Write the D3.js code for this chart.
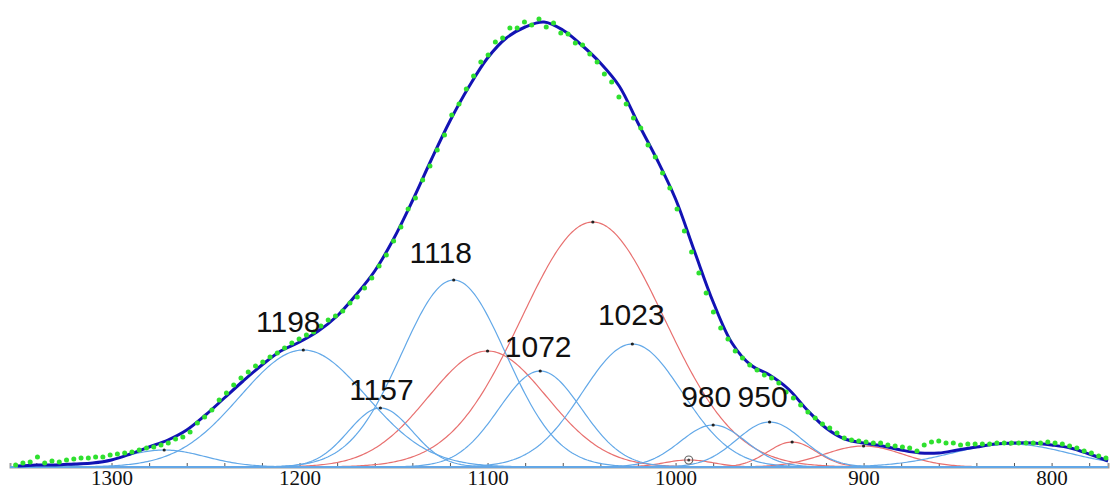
<!DOCTYPE html>
<html>
<head>
<meta charset="utf-8">
<script src="https://cdn.jsdelivr.net/npm/d3@7"></script>
<style>
  html, body { margin: 0; padding: 0; background: #fff; }
  svg { display: block; }
</style>
</head>
<body>
<div id="chart"></div>
<script>
// measured spectrum (green dots), start wavenumber and spacing
const dataStart = 1351;
const dataStep = 3.866;
const dataValues = [
  2, 4, 5, 10, 4, 6, 5, 7, 8, 9,
  9, 10, 10, 12, 13, 14, 15, 17, 19, 20,
  22, 24, 28, 30, 35, 44, 50, 57, 67, 74,
  82, 89, 95, 101, 105, 110, 114, 119, 124, 128,
  132, 135, 141, 147, 151, 156, 164, 170, 179, 189,
  201, 212, 226, 240, 258, 269, 287, 301, 317, 332,
  352, 363, 378, 391, 405, 412, 425, 429, 439, 439,
  445, 442, 448, 440, 444, 434, 433, 424, 422, 413,
  405, 393, 385, 370, 363, 349, 339, 322, 310, 294,
  279, 258, 236, 215, 194, 174, 155, 139, 128, 116,
  109, 102, 97, 92, 89, 84, 75, 69, 62, 55,
  49, 43, 39, 34, 29, 27, 26, 25, 24, 24,
  22, 21, 20, 19, 16, 22, 25, 26, 24, 24,
  22, 23, 23, 23, 23, 24, 24, 24, 24, 24,
  24, 24, 25, 24, 23, 21, 19, 16, 14, 11,
  9
];

// fitted envelope, every 10 cm-1 from 1350 down to 770
const fitStart = 1350;
const fitStep = 10;
const fitValues = [
  1, 2, 2, 3, 4, 7, 13, 20, 27, 37,
  52, 69, 86, 102, 116, 125, 136, 151, 172, 196,
  228, 266, 307, 346, 380, 409, 429, 440, 445, 437,
  422, 404, 381, 344, 308, 268, 216, 165, 124, 102,
  92, 78, 57, 39, 28, 24, 21, 17, 14, 14,
  17, 20, 23, 24, 24, 22, 19, 13, 6
];

// gaussian components: centre (cm-1), height, sigma (cm-1)
const blueCenters = [1272, 1198, 1157, 1118, 1072, 1023, 980, 950, 822];
const blueHeights = [17, 117, 59, 187, 96, 123, 42, 45, 23];
const blueSigmas  = [22, 33.5, 17, 27.7, 22, 26.6, 17.5, 17.5, 31];

const redCenters = [1100, 1044, 993, 938, 900];
const redHeights = [116, 245, 7, 25, 21];
const redSigmas  = [31.4, 38, 13, 13, 21];

const peakLabels = [1198, 1157, 1118, 1072, 1023, 980, 950];
const markedPeak = 993;

const xTicks = [1300, 1200, 1100, 1000, 900, 800];

const width = 1110, height = 491;
const baseY = 467;

const x = d3.scaleLinear().domain([1354, 770]).range([10, 1108]);
const y = d3.scaleLinear().domain([0, 450]).range([baseY, baseY - 450]);

const svg = d3.select("#chart").append("svg")
  .attr("width", width)
  .attr("height", height);

// axis with minor ticks every 20
const minorTicks = d3.range(1340, 770, -20);
const axis = d3.axisBottom(x)
  .tickValues(minorTicks)
  .tickSize(-4)
  .tickFormat(d => xTicks.includes(d) ? d : "");

const gAxis = svg.append("g")
  .attr("transform", `translate(0,${baseY})`)
  .call(axis);
gAxis.select(".domain").attr("stroke", "#9a9a9a").attr("stroke-width", 2);
gAxis.selectAll(".tick line").attr("stroke", "#555").attr("stroke-width", 1);
gAxis.selectAll(".tick text")
  .attr("y", 3)
  .attr("fill", "#111")
  .style("font-family", "'Liberation Serif', 'DejaVu Serif', serif")
  .style("font-size", "21px");

function gaussLine(c, h, s) {
  const pts = d3.range(1354, 769, -1).map(w => [w, h * Math.exp(-((w - c) ** 2) / (2 * s * s))]);
  return d3.line().x(d => x(d[0])).y(d => y(d[1]))(pts);
}

const comps = svg.append("g").attr("fill", "none").attr("stroke-width", 1.2);

redCenters.forEach((c, i) => {
  comps.append("path")
    .attr("d", gaussLine(c, redHeights[i], redSigmas[i]))
    .attr("stroke", "#e8706f");
});
blueCenters.forEach((c, i) => {
  comps.append("path")
    .attr("d", gaussLine(c, blueHeights[i], blueSigmas[i]))
    .attr("stroke", "#62a8e8");
});

// peak markers
const peaks = blueCenters.map((c, i) => ({c, h: blueHeights[i]}))
  .concat(redCenters.map((c, i) => ({c, h: redHeights[i]})));

svg.append("g").selectAll("circle")
  .data(peaks.filter(p => p.c !== markedPeak))
  .join("circle")
  .attr("cx", d => x(d.c))
  .attr("cy", d => y(d.h))
  .attr("r", 1.6)
  .attr("fill", "#222");

const mp = peaks.find(p => p.c === markedPeak);
svg.append("circle")
  .attr("cx", x(mp.c)).attr("cy", y(mp.h))
  .attr("r", 4).attr("fill", "none")
  .attr("stroke", "#666").attr("stroke-width", 1.2);
svg.append("circle")
  .attr("cx", x(mp.c)).attr("cy", y(mp.h))
  .attr("r", 1.5).attr("fill", "#444");

// fitted envelope
const fitPts = fitValues.map((v, i) => [fitStart - i * fitStep, v]);
svg.append("path")
  .attr("d", d3.line().curve(d3.curveCatmullRom.alpha(0.5))
    .x(d => x(d[0])).y(d => y(d[1]))(fitPts))
  .attr("fill", "none")
  .attr("stroke", "#1212b4")
  .attr("stroke-width", 3);

// measured points
svg.append("g").selectAll("circle")
  .data(dataValues.map((v, i) => [dataStart - i * dataStep, v]))
  .join("circle")
  .attr("cx", d => x(d[0]))
  .attr("cy", d => y(d[1]))
  .attr("r", 2.5)
  .attr("fill", "#2fe02f");

// peak labels, nudged a little off the peak tops
const nudge = {1198: [-15, 18], 1157: [1, 8], 1118: [-13, 17], 1072: [-2, 14],
               1023: [-1, 19], 980: [-7, 18], 950: [-7, 15]};
svg.append("g").selectAll("text")
  .data(peakLabels)
  .join("text")
  .attr("x", d => x(d) + nudge[d][0])
  .attr("y", d => y(blueHeights[blueCenters.indexOf(d)]) - nudge[d][1])
  .attr("text-anchor", "middle")
  .style("font-family", "'Liberation Sans', Arial, sans-serif")
  .style("font-size", "30px")
  .attr("fill", "#111")
  .text(d => d);
</script>
</body>
</html>
